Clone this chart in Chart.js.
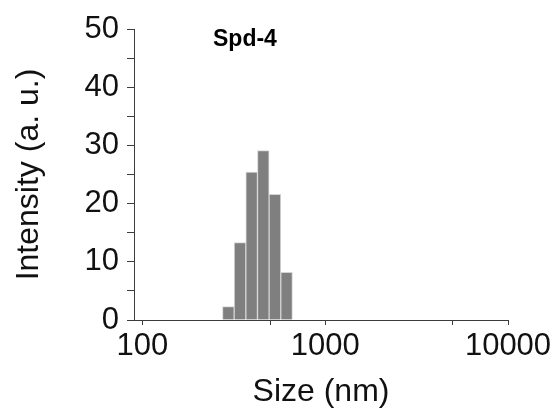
<!DOCTYPE html>
<html>
<head>
<meta charset="utf-8">
<script src="https://cdn.jsdelivr.net/npm/chart.js@4"></script>
<style>
  html, body { margin: 0; padding: 0; background: #fff; }
</style>
</head>
<body>
<canvas id="dlsChart" width="556" height="408"></canvas>
<script>
// DLS size distribution (intensity)
const sizeBins = [295.3, 342.0, 396.1, 458.7, 531.2, 615.1];
const intensity = [2.3, 13.3, 25.4, 29.1, 21.6, 8.2];

const xTicks = [100, 500, 1000, 5000, 10000];
const xLabeled = [100, 1000, 10000];
const yTicks = [0, 5, 10, 15, 20, 25, 30, 35, 40, 45, 50];
const yLabeled = [0, 10, 20, 30, 40, 50];
const sampleName = 'Spd-4';

const fontFamily = '"Liberation Sans", Arial, sans-serif';
const axisColor = '#3c3c3c';

// sample label drawn inside the plot area
const sampleTitle = {
    id: 'sampleTitle',
    afterDraw(chart) {
        const { ctx, chartArea } = chart;
        ctx.save();
        ctx.font = 'bold 23px ' + fontFamily;
        ctx.fillStyle = '#000';
        ctx.textBaseline = 'alphabetic';
        ctx.fillText(sampleName, chartArea.left + 79, chartArea.top + 17);
        ctx.restore();
    }
};

new Chart(document.getElementById('dlsChart'), {
    type: 'bar',
    data: {
        datasets: [{
            data: sizeBins.map((s, i) => ({ x: s, y: intensity[i] })),
            backgroundColor: '#7f7f7f',
            borderColor: '#d4d4d4',
            borderWidth: 1,
            barPercentage: 1,
            categoryPercentage: 1
        }]
    },
    options: {
        responsive: false,
        animation: false,
        layout: { padding: { top: 29, right: 48, bottom: 0, left: 0 } },
        plugins: {
            legend: { display: false },
            tooltip: { enabled: false }
        },
        scales: {
            x: {
                type: 'logarithmic',
                min: 90,
                max: 10000,
                offset: false,
                afterBuildTicks: scale => {
                    scale.ticks = xTicks.map(v => ({ value: v }));
                },
                afterFit: scale => { scale.height = 88; },
                grid: {
                    offset: false,
                    drawOnChartArea: false,
                    color: axisColor,
                    tickLength: 5
                },
                border: { display: true, color: axisColor, width: 1 },
                ticks: {
                    autoSkip: false,
                    maxRotation: 0,
                    padding: 3,
                    color: '#111',
                    font: { family: fontFamily, size: 31 },
                    callback: v => xLabeled.includes(v) ? String(v) : ''
                },
                title: {
                    display: true,
                    text: 'Size (nm)',
                    color: '#111',
                    font: { family: fontFamily, size: 32, lineHeight: 1 },
                    padding: { top: 0, bottom: 0 }
                }
            },
            y: {
                min: 0,
                max: 50,
                afterBuildTicks: scale => {
                    scale.ticks = yTicks.map(v => ({ value: v }));
                },
                afterFit: scale => { scale.width = 134; },
                grid: {
                    drawOnChartArea: false,
                    color: axisColor,
                    tickLength: 7
                },
                border: { display: true, color: axisColor, width: 1 },
                ticks: {
                    autoSkip: false,
                    padding: 8,
                    color: '#111',
                    font: { family: fontFamily, size: 31 },
                    callback: v => yLabeled.includes(v) ? String(v) : ''
                },
                title: {
                    display: true,
                    text: 'Intensity (a. u.)',
                    color: '#111',
                    font: { family: fontFamily, size: 32, lineHeight: 1 },
                    padding: { top: 13, bottom: 0 }
                }
            }
        }
    },
    plugins: [sampleTitle]
});
</script>
</body>
</html>
